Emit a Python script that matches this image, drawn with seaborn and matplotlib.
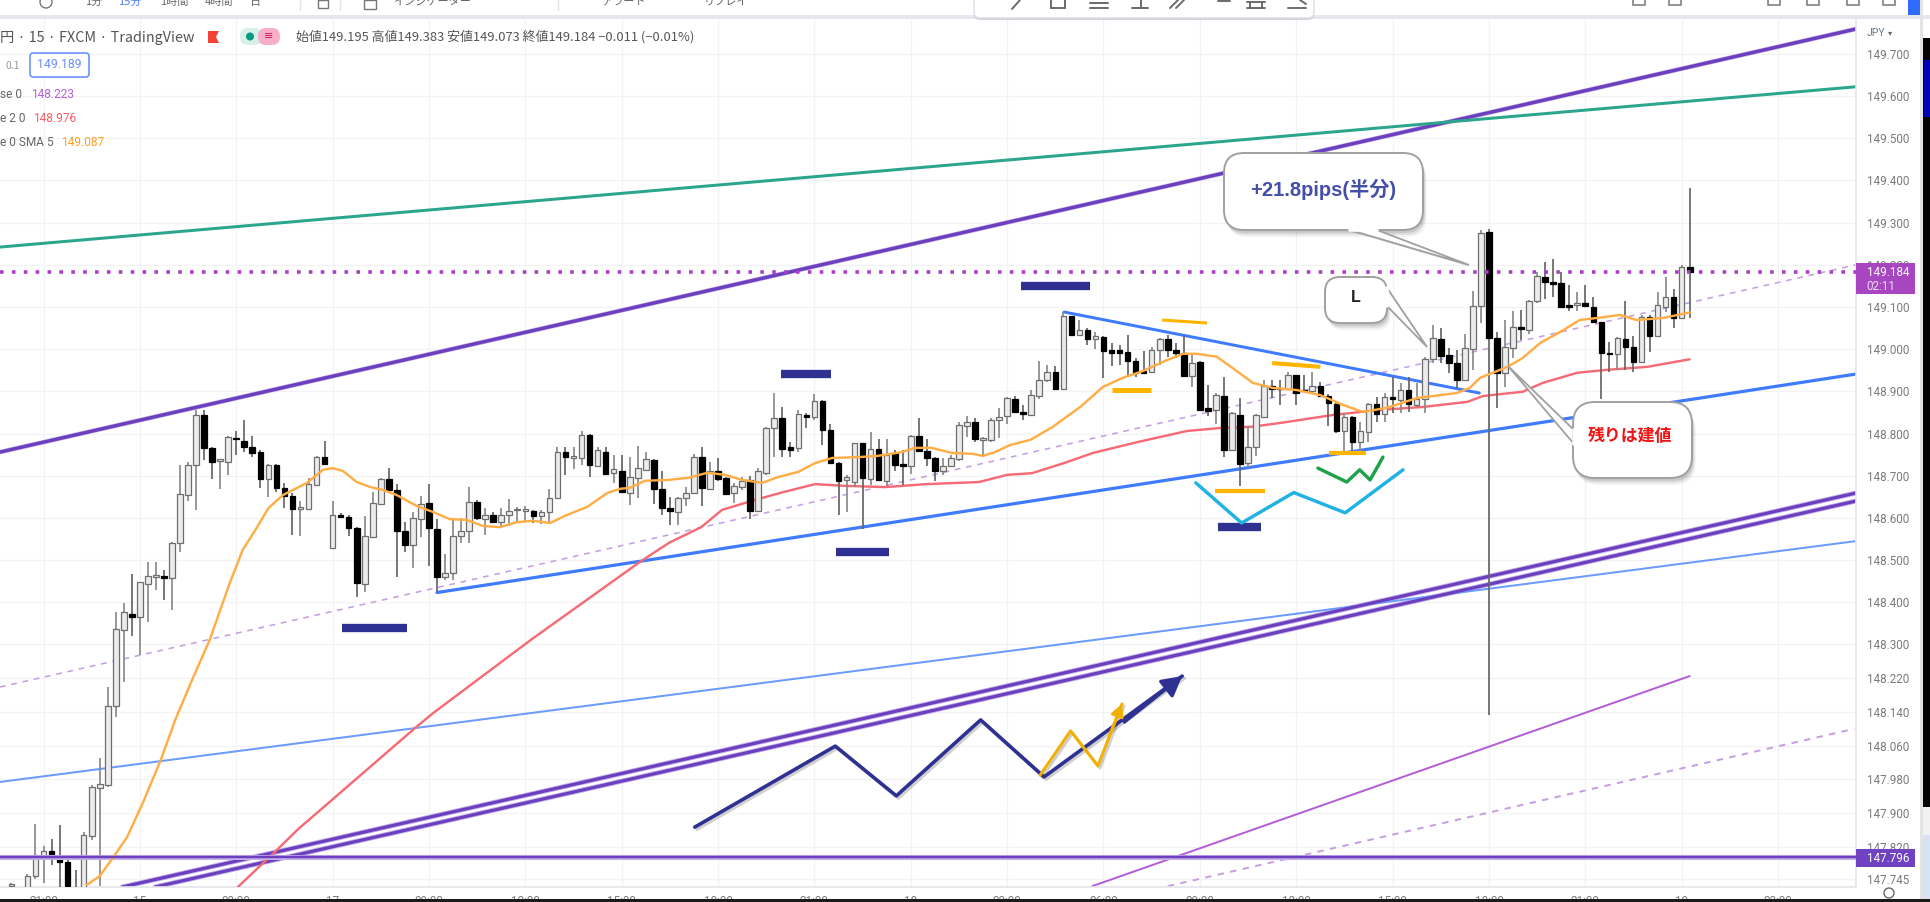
import matplotlib
matplotlib.use("Agg")
import matplotlib.pyplot as plt
import matplotlib.patheffects as pe
from matplotlib.patches import FancyBboxPatch, Polygon, Rectangle, Circle
import seaborn as sns

sns.set_theme(style="white")
plt.rcParams['font.family'] = ['Noto Sans CJK JP', 'DejaVu Sans']

candle_k = [-20] + list(range(-18, 190))
candle_high = [
147.734,147.756,147.875,147.822,147.839,147.871,147.792,147.766,147.856,147.967,
148.030,148.200,148.378,148.399,148.467,148.449,148.496,148.496,148.477,148.544,
148.726,148.733,148.856,148.856,148.769,148.739,148.793,148.805,148.831,148.793,
148.761,148.728,148.728,148.682,148.658,148.639,148.694,148.747,148.783,148.639,
148.611,148.607,148.579,148.605,148.661,148.694,148.718,148.681,148.591,148.615,
148.651,148.681,148.597,148.515,148.599,148.599,148.673,148.643,148.623,148.615,
148.623,148.644,148.625,148.627,148.619,148.619,148.668,148.767,148.769,148.769,
148.805,148.798,148.769,148.769,148.749,148.749,148.745,148.770,148.757,148.739,
148.710,148.650,148.650,148.673,148.752,148.769,148.733,148.741,148.698,148.682,
148.698,148.699,148.718,148.816,148.895,148.864,148.781,148.856,148.848,148.894,
148.880,148.823,148.733,148.702,148.778,148.778,148.804,148.786,148.786,148.761,
148.761,148.797,148.836,148.786,148.744,148.741,148.749,148.828,148.842,148.836,
148.791,148.836,148.860,148.886,148.888,148.868,148.904,148.971,148.963,148.959,
149.089,149.079,149.070,149.050,149.040,149.032,149.014,149.010,149.034,148.979,
148.995,149.006,149.026,149.034,149.014,149.032,148.987,148.972,148.916,148.896,
148.934,148.852,148.884,148.817,148.847,148.926,148.927,148.927,148.947,148.939,
148.939,148.945,148.921,148.893,148.874,148.848,148.841,148.828,148.872,148.886,
148.895,148.935,148.919,148.935,148.919,148.982,149.057,149.049,149.002,148.998,
149.037,149.139,149.282,149.284,149.041,149.069,149.091,149.093,149.116,149.184,
149.207,149.214,149.184,149.152,149.136,149.152,149.124,149.065,149.018,149.028,
149.113,149.030,149.081,149.081,149.136,149.172,149.142,149.199,149.383]
body_top = [
147.732,147.752,147.800,147.811,147.811,147.796,147.785,147.710,147.849,147.962,
147.969,148.153,148.336,148.376,148.372,148.447,148.463,148.465,148.463,148.540,
148.657,148.726,148.844,148.844,148.765,148.739,148.791,148.790,148.783,148.767,
148.757,148.726,148.726,148.670,148.653,148.625,148.680,148.745,148.744,148.607,
148.607,148.603,148.577,148.556,148.635,148.692,148.692,148.666,148.570,148.599,
148.633,148.635,148.574,148.469,148.556,148.568,148.637,148.637,148.607,148.607,
148.607,148.617,148.622,148.621,148.617,148.615,148.647,148.757,148.756,148.746,
148.797,148.797,148.760,148.757,148.715,148.712,148.698,148.718,148.739,148.737,
148.668,148.623,148.646,148.660,148.745,148.744,148.712,148.710,148.694,148.676,
148.688,148.690,148.710,148.814,148.836,148.836,148.767,148.846,148.843,148.878,
148.878,148.808,148.731,148.696,148.777,148.777,148.763,148.763,148.749,148.753,
148.727,148.795,148.794,148.759,148.741,148.722,148.741,148.820,148.828,148.828,
148.789,148.832,148.840,148.884,148.882,148.852,148.892,148.927,148.947,148.945,
149.079,149.078,149.046,149.046,149.030,149.029,148.997,148.997,148.993,148.972,
148.949,148.998,149.024,149.024,148.998,148.991,148.968,148.970,148.860,148.892,
148.890,148.848,148.844,148.769,148.844,148.913,148.912,148.909,148.939,148.938,
148.902,148.912,148.912,148.890,148.871,148.839,148.839,148.807,148.870,148.870,
148.886,148.886,148.903,148.902,148.883,148.976,149.026,149.023,148.985,148.966,
149.002,149.103,149.276,149.278,149.026,149.004,149.053,149.053,149.115,149.173,
149.172,149.160,149.156,149.104,149.109,149.109,149.101,149.064,148.992,149.026,
149.023,149.004,149.077,149.077,149.105,149.123,149.123,149.195,149.195]
body_bottom = [
147.727,147.700,147.751,147.796,147.796,147.784,147.728,147.690,147.700,147.845,
147.959,147.967,148.153,148.334,148.366,148.365,148.444,148.461,148.457,148.457,
148.540,148.654,148.726,148.765,148.733,148.735,148.733,148.786,148.767,148.755,
148.692,148.692,148.670,148.653,148.620,148.621,148.621,148.678,148.727,148.528,
148.603,148.577,148.445,148.444,148.554,148.633,148.665,148.570,148.536,148.536,
148.597,148.575,148.459,148.459,148.469,148.556,148.568,148.599,148.597,148.591,
148.591,148.607,148.619,148.617,148.605,148.605,148.615,148.647,148.744,148.742,
148.741,148.726,148.723,148.704,148.706,148.662,148.660,148.694,148.714,148.668,
148.624,148.617,148.615,148.646,148.660,148.670,148.668,148.691,148.657,148.658,
148.674,148.616,148.616,148.706,148.812,148.763,148.761,148.765,148.839,148.840,
148.808,148.729,148.688,148.690,148.686,148.694,148.691,148.690,148.688,148.725,
148.722,148.722,148.759,148.741,148.712,148.712,148.722,148.739,148.818,148.786,
148.785,148.785,148.831,148.841,148.852,148.847,148.844,148.888,148.926,148.906,
148.906,149.034,149.034,149.024,149.025,148.995,148.992,148.992,148.971,148.943,
148.943,148.947,148.998,148.998,148.992,148.937,148.937,148.856,148.854,148.855,
148.761,148.761,148.728,148.730,148.768,148.840,148.905,148.905,148.905,148.897,
148.900,148.900,148.889,148.872,148.805,148.805,148.781,148.781,148.804,148.846,
148.846,148.882,148.879,148.870,148.868,148.883,148.976,148.984,148.966,148.928,
148.928,149.000,149.103,149.026,148.943,148.944,149.002,149.048,149.045,149.113,
149.160,149.154,149.099,149.100,149.104,149.102,149.065,148.990,148.988,148.988,
149.004,148.969,148.969,149.031,149.030,149.101,149.075,149.073,149.184]
candle_low = [
147.720,147.690,147.744,147.734,147.776,147.725,147.700,147.680,147.690,147.837,
147.728,147.963,148.129,148.212,148.320,148.275,148.354,148.429,148.406,148.382,
148.520,148.641,148.619,148.737,148.692,148.668,148.702,148.749,148.757,148.745,
148.670,148.649,148.662,148.623,148.560,148.556,148.621,148.678,148.726,148.528,
148.602,148.556,148.413,148.425,148.552,148.633,148.658,148.461,148.520,148.481,
148.554,148.485,148.425,148.453,148.453,148.540,148.540,148.595,148.560,148.587,
148.575,148.581,148.587,148.591,148.587,148.586,148.586,148.644,148.702,148.715,
148.726,148.696,148.720,148.702,148.682,148.658,148.631,148.646,148.710,148.633,
148.607,148.583,148.583,148.627,148.658,148.627,148.666,148.688,148.654,148.636,
148.666,148.597,148.615,148.702,148.745,148.745,148.745,148.757,148.812,148.831,
148.773,148.728,148.607,148.615,148.674,148.573,148.678,148.688,148.676,148.710,
148.678,148.704,148.757,148.722,148.688,148.702,148.720,148.736,148.791,148.781,
148.745,148.781,148.789,148.823,148.848,148.833,148.842,148.882,148.923,148.905,
148.905,149.032,149.032,149.009,149.000,148.931,148.961,148.963,148.939,148.934,
148.942,148.945,148.963,148.981,148.979,148.935,148.910,148.855,148.842,148.823,
148.744,148.760,148.676,148.718,148.746,148.839,148.884,148.868,148.904,148.868,
148.898,148.896,148.888,148.818,148.801,148.758,148.758,148.757,148.781,148.828,
148.828,148.848,148.848,148.852,148.864,148.848,148.966,148.966,148.944,148.907,
148.927,148.951,149.061,148.133,148.860,148.911,148.978,149.022,149.037,149.110,
149.120,149.124,149.097,149.091,149.091,149.099,149.063,148.883,148.947,148.951,
148.951,148.947,148.966,148.994,149.028,149.089,149.049,149.073,149.073]
candle_dir = list(
    "uuuuddddu" "u"
    "uuuuduuudu"
    "uuudduuddd"
    "duddduuudu"
    "ddduuuddd" "u"
    "udduuuudud"
    "uuuuduuudu"
    "udududuuud"
    "dduuududdu"
    "uduuuddudu"
    "ddduududud"
    "duddduuuud"
    "uuuudduuud"
    "udududdddd"
    "duudddudd" "u"
    "duduuuddud"
    "duddduduud"
    "ududuuuddd"
    "uuudduuduu"
    "dddduddddu"
    "dduduudud")

sma5_k = [-10.6,-9.0,-7.3,-5.6,-3.6,-1.4,0.4,2.5,4.7,7.2,8.8,10.6,12.0,13.8,16.8,18.8,20.0,21.3,23.0,24.7,26.3,28.0,30.5,32.5,34.6,36.7,38.7,40.8,43.0,45.0,47.1,49.2,51.7,54.2,55.8,57.0,58.9,61.8,64.3,66.7,68.9,71.0,73.5,75.5,78.0,80.1,82.2,85.4,87.9,90.9,92.5,94.6,97.1,99.6,101.0,102.5,104.4,106.9,109.7,113.1,115.9,118.4,120.9,123.4,125.9,127.6,130.1,132.1,134.6,137.1,140.1,143.0,145.8,148.3,151.3,155.0,160.0,161.6,162.9,166.3,168.2,170.4,172.9,175.3,177.5,180.3,182.4,185.7,189]
sma5_p = [147.730,147.751,147.796,147.843,147.926,148.026,148.121,148.216,148.311,148.446,148.524,148.578,148.623,148.654,148.683,148.714,148.718,148.711,148.685,148.673,148.666,148.654,148.628,148.614,148.597,148.595,148.581,148.578,148.590,148.593,148.588,148.607,148.626,148.659,148.669,148.671,148.688,148.690,148.695,148.707,148.702,148.690,148.683,148.697,148.709,148.730,148.742,148.744,148.747,148.756,148.766,148.766,148.754,148.752,148.747,148.756,148.773,148.785,148.816,148.863,148.910,148.932,148.948,148.970,148.989,148.989,148.982,148.955,148.920,148.908,148.903,148.891,148.868,148.851,148.861,148.884,148.896,148.908,148.932,148.958,148.979,149.015,149.041,149.069,149.074,149.081,149.069,149.074,149.087]
ma20_k = [8.2,12.8,15.7,30.4,32.5,44.7,58.3,61.9,65.9,68.5,72.5,76.1,80.1,83.7,88.8,93.9,100.5,104.0,107.1,111.1,114.7,120.3,126.4,130.5,134.5,138.0,144.6,150.4,155.8,161.3,163.3,168.2,170.7,175.0,178.7,183.7,189]
ma20_p = [147.725,147.808,147.862,148.104,148.137,148.311,148.496,148.541,148.578,148.619,148.642,148.661,148.680,148.676,148.673,148.680,148.685,148.702,148.706,148.730,148.754,148.780,148.806,148.813,148.816,148.825,148.844,148.856,148.863,148.875,148.889,148.899,148.920,148.944,148.951,148.958,148.976]

last_price = 149.184
h_line_price = 147.796
price_ticks = [149.7,149.6,149.5,149.4,149.3,149.2,149.1,149.0,148.9,148.8,148.7,148.6,148.5,148.4,148.3,148.22,148.14,148.06,147.98,147.90,147.82,147.745]
time_k = [-16,-4,8,20,32,44,56,68,80,92,104,116,128,140,152,164,176,188,200]
time_labels = ["21:00","15","03:00","17","09:00","12:00","15:00","18:00","21:00","18","03:00","06:00","09:00","12:00","15:00","18:00","21:00","19","03:00"]

L, R = -21.42, 209.71
top_line = ([L, R], [148.756, 149.759])
teal_line = ([L, R], [149.242, 149.622])
support_line = ([33.0, R], [148.423, 148.941])
falling_line = ([111.1, 162.8], [149.088, 148.896])
thin_blue = ([L, R], [147.974, 148.545])
double_upper = ([-6.2, R], [147.725, 148.659])
double_lower = ([-2.1, R], [147.725, 148.640])
dash_upper = ([L, R], [148.199, 149.200])
dash_lower = ([124.0, 209.5], [147.727, 148.100])
thin_purple = ([114.6, 189.0], [147.727, 148.225])

navy_k0 = [21.2, 75.8, 82.7, 130.3, 105.7]
navy_k1 = [29.3, 82.1, 89.3, 135.6, 114.3]
navy_p = [148.338, 148.941, 148.518, 148.578, 149.150]
amber_k0 = [123.3, 117.1, 137.0, 144.1, 129.9]
amber_k1 = [128.9, 121.9, 143.0, 148.7, 136.1]
amber_p0 = [149.069, 148.903, 148.967, 148.754, 148.664]
amber_p1 = [149.062, 148.903, 148.958, 148.754, 148.664]
amber_w = [2.2, 3.6, 3.0, 3.0, 3.0]
cyan_k = [127.5, 133.2, 139.7, 146.1, 153.3]
cyan_p = [148.683, 148.588, 148.660, 148.612, 148.714]
green_k = [142.7, 146.3, 147.9, 149.2, 150.8]
green_p = [148.718, 148.685, 148.714, 148.690, 148.744]
zig_k = [65.1, 82.6, 90.2, 100.7, 108.6, 125.8]
zig_p = [147.867, 148.059, 147.941, 148.121, 147.986, 148.225]
zag_k = [108.1, 111.9, 115.3, 118.3]
zag_p = [147.990, 148.095, 148.012, 148.159]

W, H = 1930, 902
fig = plt.figure(figsize=(W/100, H/100), dpi=100, facecolor='white')
ax = fig.add_axes([0, (H-887)/H, 1856/W, (887-18)/H])
ax.set_xlim(L, R)
ax.set_ylim(147.725, 149.785)
ax.set_facecolor('white')


def line(xy, color, px, z=2, **kw):
    sns.lineplot(x=xy[0], y=xy[1], ax=ax, color=color, linewidth=px*0.72, zorder=z,
                 estimator=None, sort=False, legend=False, **kw)


PURPLE = '#6b3fbd'
HALO = '#c3aeea'
BLUE = '#3f7bff'
line(top_line, HALO, 4.6, z=1.9)
line(top_line, PURPLE, 3.4)
line(teal_line, '#2ca58d', 3.0)
line(support_line, BLUE, 3.2)
line(falling_line, BLUE, 3.0, z=2.5)
line(thin_blue, '#6b9bff', 2.0)
line(double_upper, HALO, 5.0, z=1.9)
line(double_lower, HALO, 5.0, z=1.9)
line(double_upper, PURPLE, 3.2)
line(double_lower, PURPLE, 3.2)
line(([L, R], [h_line_price]*2), HALO, 5.0, z=4)
line(([L, R], [h_line_price]*2), PURPLE, 2.4, z=4.1)
line(dash_upper, '#c4a0e0', 1.6, linestyle=(0, (3.6, 3.6)))
line(dash_lower, '#c4a0e0', 2.0, linestyle=(0, (3.2, 3.2)))
line(thin_purple, '#b45fd8', 2.0)
line(([L, R], [last_price]*2), '#a83fc4', 3.6, z=4, linestyle=(0, (1, 2.3)))

# candles
for k, hi, t, b, lo, d in zip(candle_k, candle_high, body_top, body_bottom, candle_low, candle_dir):
    up = d == 'u'
    ax.vlines(k, lo, hi, color='#8a8a8a' if up else '#666666', linewidth=1.25, zorder=3)
    ax.bar(k, max(t-b, 0.003), bottom=b, width=0.70,
           facecolor='#ebebeb' if up else '#000000', edgecolor='#6e6e6e' if up else '#000000',
           linewidth=0.9, zorder=3.2)

round_join = dict(solid_joinstyle='round', solid_capstyle='round')
line((sma5_k, sma5_p), '#ffad45', 2.4, z=4, **round_join)
line((ma20_k, ma20_p), '#f56a74', 2.4, z=2.8, **round_join)

for a, b, p in zip(navy_k0, navy_k1, navy_p):
    ax.plot([a, b], [p, p], color='#2e3192', lw=6.0, solid_capstyle='butt', zorder=5)
for a, b, p, q, w in zip(amber_k0, amber_k1, amber_p0, amber_p1, amber_w):
    ax.plot([a, b], [p, q], color='#ffb400', lw=w, solid_capstyle='butt', zorder=5)
line((cyan_k, cyan_p), '#1fb2e2', 3.4, z=5)
line((green_k, green_p), '#1ea24a', 3.4, z=5)
shadow = [pe.SimpleLineShadow(offset=(1.5, -1.5), alpha=0.25, shadow_color='#444444'), pe.Normal()]
line((zig_k, zig_p), '#2e3192', 3.6, z=5, path_effects=shadow)
line((zag_k, zag_p), '#f4b000', 3.0, z=5.1, path_effects=shadow)
ax.annotate('', xy=(zig_k[-1], zig_p[-1]), xytext=(zig_k[-2]+10, zig_p[-2]+0.13), zorder=5,
            arrowprops=dict(arrowstyle='-|>,head_width=0.55,head_length=1.0', color='#2e3192', lw=2.4, shrinkA=0, shrinkB=0))
ax.annotate('', xy=(zag_k[-1], zag_p[-1]), xytext=(zag_k[-2]+1.4, zag_p[-2]+0.07), zorder=5.1,
            arrowprops=dict(arrowstyle='-|>,head_width=0.32,head_length=0.6', color='#f4b000', lw=2.0, shrinkA=0, shrinkB=0))

# axes furniture
ax.set_yticks(price_ticks)
ax.set_yticklabels([f"{v:.3f}" for v in price_ticks], family='Roboto', fontsize=8.4, color='#7a7a7a')
ax.yaxis.tick_right()
ax.set_xticks(time_k)
ax.set_xticklabels(time_labels, family='Roboto', fontsize=8.4, color='#7a7a7a', va='top')
ax.tick_params(axis='y', length=0, pad=8)
ax.tick_params(axis='x', length=0, pad=6)
ax.grid(True, color='#f3f3f6', linewidth=0.9, zorder=0)
ax.set_axisbelow(True)
for s in ['left', 'top']:
    ax.spines[s].set_visible(False)
for s in ['right', 'bottom']:
    ax.spines[s].set_color('#e4e4ea')
    ax.spines[s].set_linewidth(1.2)

# overlay for interface chrome, in image pixels
ov = fig.add_axes([0, 0, 1, 1], zorder=10)
ov.set_xlim(0, W)
ov.set_ylim(H, 0)
ov.axis('off')
ov.patch.set_alpha(0)


def box(x0, y0, x1, y1, fc='white', ec='none', r=3, lw=1.0, z=1, alpha=None):
    p = FancyBboxPatch((x0, y0), x1-x0, y1-y0, boxstyle=f"round,pad=0,rounding_size={r}",
                       fc=fc, ec=ec, lw=lw, zorder=z, alpha=alpha)
    ov.add_patch(p)


def txt(x, y, s, color='#555555', size=9, ha='left', va='center', weight='normal', family=None, z=8):
    fam = family or ['Noto Sans CJK JP', 'DejaVu Sans']
    ov.text(x, y, s, color=color, fontsize=size, ha=ha, va=va, fontweight=weight, family=fam, zorder=z)


def callout(x0, y0, x1, y1, tail, r=20, z=3):
    for d, a in ((7, 0.05), (5, 0.08), (3, 0.10)):
        box(x0+d/2, y0+d, x1+d/2, y1+d, fc='#000000', r=r, z=z-0.5, alpha=a)
    xs = [t[0] for t in tail]
    ys = [t[1] for t in tail]
    ov.add_patch(Polygon([(x+2, y+2) for x, y in tail], closed=True, fc='#000000', alpha=0.15, ec='none', zorder=z-0.4))
    ov.add_patch(Polygon(tail, closed=True, fc='white', ec='#a0a0a0', lw=1.3, zorder=z))
    box(x0, y0, x1, y1, fc='white', ec='#a0a0a0', r=r, lw=1.4, z=z+0.1)
    ov.add_line(plt.Line2D([xs[0], xs[2]], [ys[0], ys[2]], color='white', lw=2.6, zorder=z+0.2))


callout(1224, 153, 1423, 230, [(1350, 230), (1469, 265), (1377, 230)])
txt(1323, 189, "+21.8pips(半分)", color='#4450a8', size=14.5, ha='center', weight='bold', family=['Liberation Sans', 'Noto Sans CJK JP'])
callout(1325, 277, 1387, 323, [(1387, 288), (1427, 347), (1387, 306)], r=15)
txt(1356, 298, "L", color='#222222', size=11.5, ha='center', weight='bold', family=['Liberation Sans'])
callout(1573, 402, 1692, 478, [(1574, 430), (1508, 366), (1574, 444)], r=22)
txt(1630, 436, "残りは建値", color='#f01414', size=12.2, ha='center', weight='bold')

# price tags
ov.add_patch(Rectangle((1856, 263), 59, 31, fc='#a845c0', ec='none', zorder=5))
txt(1867, 272, "149.184", color='white', size=8.4, family=['Roboto'])
txt(1866, 286, "02:11", color='#eeddf5', size=8.4, family=['Roboto'])
ov.add_patch(Rectangle((1856, 849), 59, 18, fc='#6f42c1', ec='none', zorder=5))
txt(1867, 858, "147.796", color='white', size=8.4, family=['Roboto'])
txt(1867, 33, "JPY", color='#6a7a8c', size=7.6, family=['Roboto'])
txt(1888, 33, "▾", color='#666666', size=6, family=['DejaVu Sans'])
ov.add_patch(Circle((1889, 893), 5, fc='none', ec='#666666', lw=1))

# top bar
ov.add_patch(Rectangle((0, 0), W, 15, fc='white', ec='none', zorder=1))
ov.add_patch(Rectangle((0, 15), W, 4, fc='#e6e6f0', ec='none', zorder=1))
ov.add_patch(Circle((46, 2), 6, fc='none', ec='#777777', lw=1, zorder=2))
for x, s in [(85, "1分"), (118, "15分"), (160, "1時間"), (205, "4時間"), (250, "日")]:
    txt(x, 2, s, color='#666666' if s != "15分" else '#4a7cff', size=8)
txt(393, 2, "インジケーター", color='#666666', size=8)
txt(602, 2, "アラート", color='#666666', size=8)
txt(704, 2, "リプレイ", color='#666666', size=8)
ov.add_patch(Rectangle((318, 0), 10, 8, fc='none', ec='#777777', lw=1, zorder=2))
ov.add_patch(Rectangle((364, 0), 12, 9, fc='none', ec='#777777', lw=1, zorder=2))
ov.add_line(plt.Line2D([300, 300], [0, 10], color='#e3e3e8', lw=1, zorder=2))
ov.add_line(plt.Line2D([340, 340], [0, 10], color='#e3e3e8', lw=1, zorder=2))
ov.add_line(plt.Line2D([558, 558], [0, 10], color='#e3e3e8', lw=1, zorder=2))
box(974, -10, 1314, 20, fc='#c8c8d2', r=6, z=2, alpha=0.8)
box(974, -12, 1314, 18, fc='white', ec='#dcdce2', r=6, z=2.2)
ico = '#6a6a6a'
for x0, y0, x1, y1 in [(1012, 9, 1020, 0), (1051, 8, 1065, 8), (1051, 0, 1051, 8), (1065, 0, 1065, 8),
                       (1090, 3, 1108, 3), (1090, 8, 1108, 8), (1132, 8, 1148, 8), (1141, 0, 1141, 8),
                       (1170, 8, 1178, 0), (1176, 8, 1184, 0), (1218, 1, 1230, 1), (1247, 8, 1265, 8),
                       (1247, 2, 1265, 2), (1250, 2, 1250, 8), (1262, 2, 1262, 8), (1288, 8, 1306, 8),
                       (1300, 0, 1306, 4)]:
    ov.add_line(plt.Line2D([x0, x1], [y0, y1], color=ico, lw=1.4, zorder=3))
for x in [1639, 1675, 1774, 1813, 1853, 1889]:
    ov.add_patch(Rectangle((x-6, -4), 12, 9, fc='none', ec='#777777', lw=1.1, zorder=2))
ov.add_patch(Rectangle((1908, 0), 13, 15, fc='#2f6bff', ec='none', zorder=2))

# neighbouring windows at the edges
ov.add_patch(Rectangle((1920, 0), 3, 899, fc='#e4e4e4', ec='none', zorder=6))
ov.add_patch(Rectangle((1923, 38), 7, 769, fc='#050505', ec='none', zorder=6))
ov.add_patch(Rectangle((1924, 60), 6, 57, fc='#0000b4', ec='none', zorder=6.1))
ov.add_patch(Rectangle((1923, 807), 7, 28, fc='#f2f2f2', ec='none', zorder=6))
ov.add_patch(Rectangle((1923, 835), 7, 64, fc='#d6e3f2', ec='none', zorder=6))
ov.add_patch(Rectangle((0, 899), W, 3, fc='#1a1a1a', ec='none', zorder=9))

# legend block
txt(0, 38, "円 · 15 · FXCM · TradingView", color='#555555', size=10.3)
ov.add_patch(Polygon([(208, 31), (219, 31), (216, 37), (219, 43), (208, 43)], closed=True, fc='#f44336', ec='none', zorder=5))
box(240, 28, 262, 45, fc='#d6f0ea', r=8, z=5)
box(258, 28, 280, 45, fc='#f7afc8', r=8, z=5.1)
ov.add_patch(Circle((250, 36.5), 4, fc='#089981', ec='none', zorder=5.2))
txt(269, 36.5, "≡", color='#c2185b', size=8, ha='center', family=['DejaVu Sans'])
txt(296, 37, "始値149.195 高値149.383 安値149.073 終値149.184 −0.011 (−0.01%)", color='#555555', size=9.3)
txt(5, 66, "0.1", color='#999999', size=7.5)
box(30, 53, 89, 77, fc='white', ec='#6a94ff', r=3, lw=1.2, z=5)
txt(59.5, 65, "149.189", color='#6a8cff', size=8.8, ha='center', family=['Roboto'])
txt(0, 94, "se 0", color='#666666', size=8.6, family=['Roboto'])
txt(31, 94, "148.223", color='#b45fd8', size=8.6, family=['Roboto'])
txt(0, 118, "e 2 0", color='#666666', size=8.6, family=['Roboto'])
txt(33, 118, "148.976", color='#ff5a64', size=8.6, family=['Roboto'])
txt(0, 142, "e 0 SMA 5", color='#666666', size=8.6, family=['Roboto'])
txt(61, 142, "149.087", color='#ffa020', size=8.6, family=['Roboto'])

fig.savefig("out.png", dpi=100, facecolor='white')
